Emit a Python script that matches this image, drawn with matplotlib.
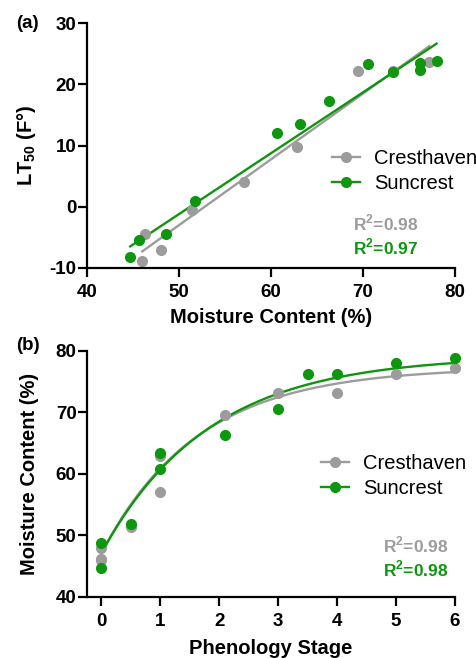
import numpy as np
import matplotlib
matplotlib.use('Agg')
import matplotlib.pyplot as plt

plt.rcParams['font.family'] = ['Liberation Sans', 'DejaVu Sans']
plt.rcParams['mathtext.fontset'] = 'custom'
plt.rcParams['mathtext.rm'] = 'Liberation Sans:bold'
plt.rcParams['mathtext.bf'] = 'Liberation Sans:bold'
plt.rcParams['axes.unicode_minus'] = False

gris = '#9c9c9c'
verde = '#0e960e'

#%% datos panel (a): LT50 vs humedad
cres_mc = [46.3, 46.0, 48.0, 51.4, 57.1, 62.8, 69.5, 73.3, 77.2]
cres_lt = [-4.4, -8.8, -7.1, -0.5, 4.0, 9.8, 22.2, 22.1, 23.6]
sun_mc = [44.7, 45.7, 48.6, 51.7, 60.7, 63.2, 66.3, 70.5, 73.3, 76.2, 76.2, 78.0]
sun_lt = [-8.2, -5.4, -4.5, 1.0, 12.0, 13.5, 17.3, 23.3, 22.0, 23.4, 22.4, 23.8]
# ajustes lineales (pendiente, ordenada)
cres_fit = (1.074, -56.7)
sun_fit = (0.994, -50.9)
r2_a = ['0.98', '0.97']

#%% datos panel (b): humedad vs estadio fenologico
cres_st = [0, 0, 0, 0.5, 1, 1, 2.1, 3, 4, 5, 6]
cres_mc2 = [48.0, 46.2, 45.9, 51.3, 62.8, 57.1, 69.5, 73.2, 73.2, 76.2, 77.2]
sun_st = [0, 0, 0.5, 1, 1, 2.1, 3, 3.5, 4, 5, 6]
sun_mc2 = [48.7, 44.7, 51.8, 63.4, 60.7, 66.3, 70.5, 76.2, 76.2, 78.0, 78.8]
# meseta exponencial (Y0, plateau, k)
cres_plat = (47.0, 77.3, 0.61)
sun_plat = (47.0, 79.2, 0.55)
r2_b = ['0.98', '0.98']

#%%
fig = plt.figure(figsize=(4.77, 6.58), dpi=100)
ax1 = fig.add_axes([87/477, 1-268/658, 368/477, 245/658])
ax2 = fig.add_axes([87/477, 1-596.7/658, 368/477, 246/658])

def estilo(ax):
    for s in ['top', 'right']:
        ax.spines[s].set_visible(False)
    for s in ['left', 'bottom']:
        ax.spines[s].set_linewidth(1.6)
    ax.tick_params(width=1.6, length=6.5, labelsize=13.5)
    ax.tick_params(axis='x', pad=5)
    ax.tick_params(axis='y', pad=1)
    for lab in ax.get_xticklabels() + ax.get_yticklabels():
        lab.set_fontweight('bold')

ms = 7
lw = 1.7
# (a)
xg = np.array([min(cres_mc), max(cres_mc)])
xv = np.array([min(sun_mc), max(sun_mc)])
ax1.plot(xg, cres_fit[0]*xg + cres_fit[1], color=gris, lw=lw)
ax1.plot(xv, sun_fit[0]*xv + sun_fit[1], color=verde, lw=lw)
ax1.plot(cres_mc, cres_lt, 'o', color=gris, ms=ms, clip_on=False)
ax1.plot(sun_mc, sun_lt, 'o', color=verde, ms=ms, clip_on=False)
ax1.plot([], [], 'o-', color=gris, ms=ms, lw=lw, label='Cresthaven')
ax1.plot([], [], 'o-', color=verde, ms=ms, lw=lw, label='Suncrest')
ax1.set_xlim(40, 80)
ax1.set_ylim(-10, 30)
ax1.set_xticks([40, 50, 60, 70, 80])
ax1.set_yticks([-10, 0, 10, 20, 30])
estilo(ax1)
ax1.set_xlabel('Moisture Content (%)', fontsize=14.5, fontweight='bold', va='center')
ax1.xaxis.set_label_coords(0.5, -0.204)
ax1.set_ylabel('LT$_{50}$ (F°)', fontsize=14.5, fontweight='bold', va='center')
ax1.yaxis.set_label_coords(-0.165, 0.5)
ax1.legend(loc='upper left', bbox_to_anchor=(0.665, 0.485), frameon=False, fontsize=14.5,
           handlelength=1.4, handletextpad=0.7, labelspacing=0.3, borderpad=0, borderaxespad=0)
ax1.text(0.723, 0.184, 'R$^2$=' + r2_a[0], transform=ax1.transAxes, color=gris,
         fontsize=12.5, fontweight='bold', va='center')
ax1.text(0.723, 0.086, 'R$^2$=' + r2_a[1], transform=ax1.transAxes, color=verde,
         fontsize=12.5, fontweight='bold', va='center')
fig.text(16/477, 1-23/658, '(a)', fontsize=13.5, fontweight='bold', va='center')

# (b)
xs = np.linspace(0, 6, 200)
for p, c in [(cres_plat, gris), (sun_plat, verde)]:
    y0, top, k = p
    ax2.plot(xs, top - (top - y0)*np.exp(-k*xs), color=c, lw=lw)
ax2.plot(cres_st, cres_mc2, 'o', color=gris, ms=ms, clip_on=False)
ax2.plot(sun_st, sun_mc2, 'o', color=verde, ms=ms, clip_on=False)
ax2.plot([], [], 'o-', color=gris, ms=ms, lw=lw, label='Cresthaven')
ax2.plot([], [], 'o-', color=verde, ms=ms, lw=lw, label='Suncrest')
ax2.set_xlim(-0.24, 6)
ax2.set_ylim(40, 80)
ax2.set_xticks(range(7))
ax2.set_yticks([40, 50, 60, 70, 80])
estilo(ax2)
ax2.set_xlabel('Phenology Stage', fontsize=14.5, fontweight='bold', va='center')
ax2.xaxis.set_label_coords(0.5, -0.209)
ax2.set_ylabel('Moisture Content (%)', fontsize=14.5, fontweight='bold', va='center')
ax2.yaxis.set_label_coords(-0.155, 0.5)
ax2.legend(loc='upper left', bbox_to_anchor=(0.635, 0.58), frameon=False, fontsize=14.5,
           handlelength=1.4, handletextpad=0.7, labelspacing=0.3, borderpad=0, borderaxespad=0)
ax2.text(0.804, 0.21, 'R$^2$=' + r2_b[0], transform=ax2.transAxes, color=gris,
         fontsize=12.5, fontweight='bold', va='center')
ax2.text(0.804, 0.111, 'R$^2$=' + r2_b[1], transform=ax2.transAxes, color=verde,
         fontsize=12.5, fontweight='bold', va='center')
fig.text(16/477, 1-345/658, '(b)', fontsize=13.5, fontweight='bold', va='center')

fig.savefig('out.png', dpi=100)
